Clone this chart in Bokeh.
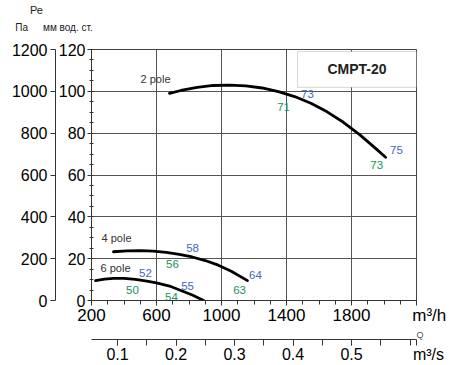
from bokeh.plotting import figure
from bokeh.models import (Range1d, LinearAxis, FixedTicker, Label, BoxAnnotation,
                          Grid, Title)
from bokeh.embed import file_html
from bokeh.resources import INLINE
from bokeh.core.properties import value

# ---------------- data ----------------
q_2pole = [680, 750, 850, 950, 1050, 1150, 1250, 1350, 1450, 1550, 1650, 1750, 1850, 1950, 2010]
p_2pole = [99.0, 100.4, 101.9, 102.8, 103.0, 102.6, 101.6, 99.9, 97.5, 94.3, 90.2, 85.2, 79.3, 72.6, 68.5]

q_4pole = [335, 420, 500, 580, 660, 740, 820, 900, 980, 1060, 1160]
p_4pole = [23.3, 23.7, 23.8, 23.6, 23.0, 22.1, 20.8, 19.1, 16.9, 14.0, 9.5]

q_6pole = [225, 280, 335, 400, 470, 540, 600, 680, 750, 820, 890]
p_6pole = [9.5, 10.2, 10.6, 10.6, 10.1, 9.3, 8.4, 6.9, 4.8, 2.6, 0.0]

pole_names = ["2 pole", "4 pole", "6 pole"]
pole_q = [594, 354, 348]
pole_p = [105.7, 30.0, 15.7]

eff_blue_text = ["73", "75", "58", "52", "64", "55"]
eff_blue_q = [1529, 2077, 822, 532, 1209, 791]
eff_blue_p = [98.6, 72.0, 25.2, 13.3, 12.4, 6.7]

eff_green_text = ["71", "73", "56", "50", "63", "54"]
eff_green_q = [1382, 1955, 698, 452, 1111, 692]
eff_green_p = [92.4, 65.0, 17.6, 4.8, 5.2, 1.9]

x_ticks = [200, 600, 1000, 1400, 1800]
x_minor = list(range(200, 2201, 100))
y_ticks = [0, 20, 40, 60, 80, 100, 120]
y_minor = list(range(0, 121, 5))
pa_ticks = [0, 200, 400, 600, 800, 1000, 1200]
ms_ticks = [0.1, 0.2, 0.3, 0.4, 0.5]
ms_minor = [0.05, 0.1, 0.15, 0.2, 0.25, 0.3, 0.35, 0.4, 0.45, 0.5, 0.55, 0.6]

model_name = "CMPT-20"
box_q = [1468, 2200]
box_p = [101.9, 119.0]

unit_flow_h = "m³/h"
unit_flow_s = "m³/s"
unit_pe = "Ре"
unit_pa = "Па"
unit_mm = "мм вод. ст."
flow_symbol = "Q"

M3H_PER_M3S = 3600.0
Q_MIN, Q_MAX = 200, 2200
P_MIN, P_MAX = 0, 120
PA_PER_MM = 10.0

FONT = "Liberation Sans"
AX = "#333333"
BLUE = "#4466c4"
GREEN = "#17925a"
EN, EM = "\u2002", "\u2003"
PAD = EN * 3

p = figure(width=450, height=365,
           x_range=Range1d(Q_MIN, Q_MAX), y_range=Range1d(P_MIN, P_MAX),
           x_axis_type=None, y_axis_type=None,
           output_backend="svg", toolbar_location=None,
           min_border_left=91, min_border_top=48, min_border_right=34, min_border_bottom=65)
p.background_fill_color = "white"
p.border_fill_color = "white"
p.outline_line_color = "#444444"
p.outline_line_width = 1

p.extra_y_ranges = {"pa": Range1d(P_MIN * PA_PER_MM, P_MAX * PA_PER_MM)}
p.extra_x_ranges = {"ms": Range1d(Q_MIN / M3H_PER_M3S, Q_MAX / M3H_PER_M3S)}


def style(ax, size="17px", tout=5, tin=0, mout=3, min_=0, standoff=4):
    ax.axis_line_color = AX
    ax.axis_line_width = 1
    ax.major_tick_line_color = AX
    ax.minor_tick_line_color = AX
    ax.major_tick_out = tout
    ax.major_tick_in = tin
    ax.minor_tick_out = mout
    ax.minor_tick_in = min_
    ax.major_label_text_font = FONT
    ax.major_label_text_font_size = size
    ax.major_label_text_color = "black"
    ax.major_label_standoff = standoff


# left axes: mm water column (inner) and Pa (outer)
y_mm = LinearAxis(ticker=FixedTicker(ticks=y_ticks, minor_ticks=y_minor))
style(y_mm, size="16px", tout=4, mout=2, min_=2, standoff=2)
p.add_layout(y_mm, "left")

y_pa = LinearAxis(y_range_name="pa", ticker=FixedTicker(ticks=pa_ticks))
style(y_pa, size="16px", tout=5, mout=0, standoff=3)
y_pa.minor_tick_line_color = None
p.add_layout(y_pa, "left")

# bottom: m3/h axis, the "Q" caption, then the m3/s axis
x_h = LinearAxis(ticker=FixedTicker(ticks=x_ticks + [Q_MAX], minor_ticks=x_minor))
style(x_h, size="17px", tout=5, mout=4, standoff=0)
x_h.major_label_overrides = {Q_MAX: PAD + unit_flow_h}
p.add_layout(x_h, "below")

p.add_layout(Title(text=flow_symbol, align="right", offset=-7, standoff=0,
                   text_font=FONT, text_font_size="9px", text_font_style="normal",
                   text_color="#555555"), "below")

ms_end = Q_MAX / M3H_PER_M3S
x_s = LinearAxis(x_range_name="ms",
                 ticker=FixedTicker(ticks=ms_ticks + [ms_end], minor_ticks=ms_minor))
style(x_s, size="16px", tout=6, mout=6, standoff=0)
x_s.major_label_overrides = {ms_end: PAD + unit_flow_s}
p.add_layout(x_s, "below")


# unit captions above the left axes: label-only axes, text centred on the frame's left edge
def caption_axis(text, size, standoff):
    ax = LinearAxis(ticker=FixedTicker(ticks=[Q_MIN]), major_label_overrides={Q_MIN: text})
    ax.axis_line_color = None
    ax.major_tick_line_color = None
    ax.minor_tick_line_color = None
    ax.major_tick_out = 0
    ax.major_tick_in = 0
    ax.minor_tick_out = 0
    ax.minor_tick_in = 0
    ax.major_label_text_font = FONT
    ax.major_label_text_font_size = size
    ax.major_label_text_color = "#222222"
    ax.major_label_standoff = standoff
    p.add_layout(ax, "above")


caption_axis(unit_pa + EM + EN + unit_mm + EM * 7 + EN, "10px", 17)
caption_axis(unit_pe + EM * 9 + EN * 2, "11px", 3)

# grids
p.add_layout(Grid(dimension=0, ticker=FixedTicker(ticks=x_ticks[1:]),
                  grid_line_color="#555555", grid_line_width=1))
p.add_layout(Grid(dimension=1, ticker=FixedTicker(ticks=y_ticks[1:-1]),
                  grid_line_color="#555555", grid_line_width=1))

# curves
for q, pr in ((q_2pole, p_2pole), (q_4pole, p_4pole), (q_6pole, p_6pole)):
    p.line(q, pr, line_color="black", line_width=2.8, line_cap="round")

# labels
p.text(x=pole_q, y=pole_p, text=pole_names, text_font=value(FONT),
       text_font_size="11px", text_color="#333333",
       text_align="center", text_baseline="middle")
p.text(x=eff_blue_q, y=eff_blue_p, text=eff_blue_text, text_font=value(FONT),
       text_font_size="11.5px", text_color=BLUE,
       text_align="center", text_baseline="middle")
p.text(x=eff_green_q, y=eff_green_p, text=eff_green_text, text_font=value(FONT),
       text_font_size="11.5px", text_color=GREEN,
       text_align="center", text_baseline="middle")

# model box
p.add_layout(BoxAnnotation(left=box_q[0], right=box_q[1], bottom=box_p[0], top=box_p[1],
                           fill_color="white", fill_alpha=1.0,
                           line_color="#777777", line_width=1))
p.add_layout(Label(x=(box_q[0] + box_q[1]) / 2, y=(box_p[0] + box_p[1]) / 2,
                   text=model_name, text_font=FONT, text_font_size="14px",
                   text_font_style="bold", text_color="#222222",
                   text_align="center", text_baseline="middle"))

open("out.html", "w").write(file_html(p, INLINE))
